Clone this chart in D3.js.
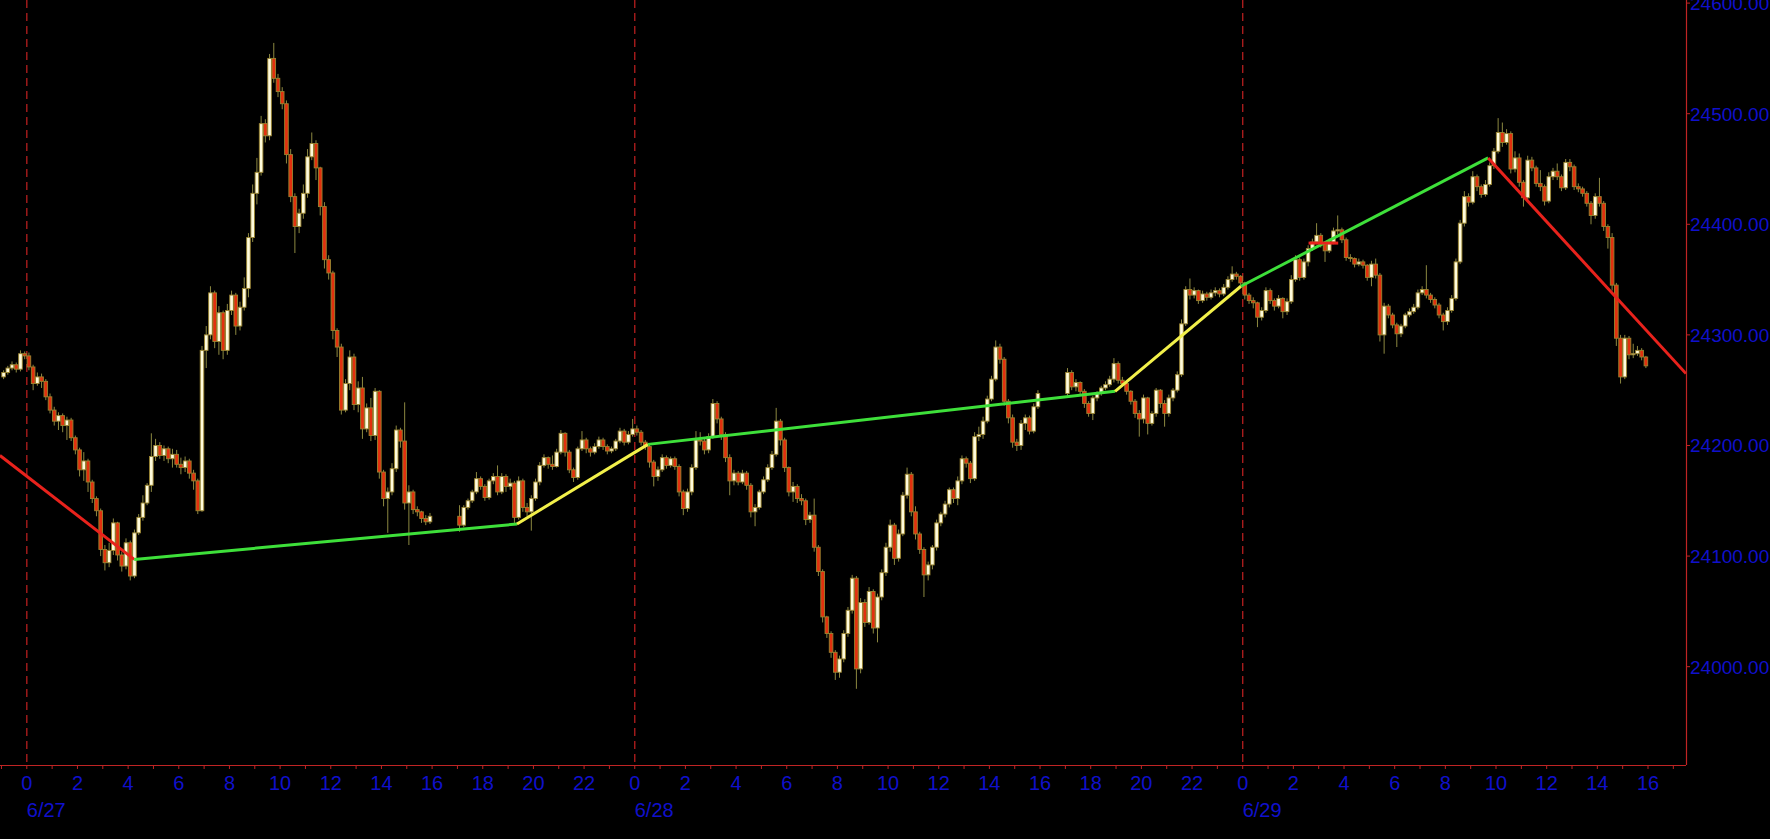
<!DOCTYPE html>
<html>
<head>
<meta charset="utf-8">
<script src="https://cdn.jsdelivr.net/npm/d3@7"></script>
<style>
  html, body { margin: 0; padding: 0; background: #000; overflow: hidden; }
  text { font-family: "Liberation Sans", Arial, sans-serif; }
</style>
</head>
<body>
<div id="chart"></div>
<script>
// 10-minute candles, time in hours counted from 6/27 00:00
var sessionStarts = [-1, 17, 41];
var firstOpen = 24262;

var closes1 = [
  24266, 24270, 24273, 24269, 24283, 24281,
  24271, 24256, 24262, 24258, 24244, 24232,
  24222, 24227, 24218, 24223, 24207, 24196,
  24178, 24186, 24167, 24152, 24141, 24106,
  24094, 24105, 24130, 24101, 24091, 24112,
  24082, 24121, 24135, 24148, 24164, 24190,
  24200, 24191, 24197, 24188, 24192, 24183,
  24180, 24186, 24175, 24168, 24141, 24286,
  24300, 24338, 24294, 24320, 24286, 24322,
  24336, 24308, 24325, 24342, 24388, 24428,
  24447, 24491, 24480, 24550, 24532, 24520,
  24509, 24463, 24425, 24398, 24410, 24428,
  24461, 24473, 24451, 24416, 24368, 24356,
  24304, 24289, 24232, 24256, 24280, 24237,
  24252, 24215, 24234, 24209, 24249, 24176,
  24152, 24158, 24179, 24214, 24204, 24148,
  24158, 24142, 24140, 24134, 24131, 24136
];
var highs1 = [
  24268, 24272, 24276, 24275, 24286, 24285,
  24284, 24273, 24266, 24265, 24260, 24247,
  24235, 24230, 24229, 24226, 24225, 24209,
  24198, 24194, 24188, 24169, 24154, 24143,
  24110, 24112, 24134, 24131, 24104, 24116,
  24114, 24124, 24138, 24155, 24166, 24211,
  24206, 24203, 24200, 24199, 24197, 24196,
  24189, 24190, 24188, 24178, 24170, 24290,
  24308, 24344, 24340, 24326, 24322, 24328,
  24340, 24338, 24330, 24352, 24392, 24436,
  24460, 24498, 24495, 24554, 24564, 24536,
  24524, 24512, 24468, 24428, 24414, 24436,
  24468, 24483, 24476, 24452, 24420, 24372,
  24358, 24306, 24292, 24260, 24286, 24283,
  24258, 24262, 24238, 24243, 24252, 24250,
  24178, 24162, 24184, 24218, 24216, 24239,
  24164, 24160, 24145, 24141, 24137, 24139
];
var lows1 = [
  24260, 24264, 24268, 24266, 24267, 24278,
  24268, 24250, 24254, 24252, 24241, 24229,
  24218, 24214, 24212, 24205, 24204, 24192,
  24172, 24168, 24158, 24148, 24136, 24100,
  24087, 24090, 24101, 24096, 24086, 24088,
  24078, 24080, 24119, 24132, 24146, 24158,
  24186, 24188, 24186, 24184, 24180, 24180,
  24174, 24176, 24170, 24160, 24138, 24140,
  24270, 24296, 24288, 24282, 24278, 24282,
  24318, 24300, 24304, 24322, 24334, 24384,
  24418, 24444, 24474, 24476, 24528, 24515,
  24504, 24455, 24420, 24374, 24392, 24405,
  24424, 24458, 24440, 24408, 24360, 24350,
  24296, 24280, 24228, 24230, 24250, 24232,
  24230, 24206, 24212, 24204, 24205, 24170,
  24145, 24121, 24155, 24176, 24198, 24142,
  24110, 24138, 24136, 24130, 24128, 24129
];

var closes2 = [
  24128, 24144, 24150, 24158, 24170, 24163,
  24153, 24168, 24172, 24158, 24172, 24163,
  24166, 24135, 24168, 24144, 24140, 24152,
  24167, 24182, 24189, 24183, 24181, 24194,
  24211, 24194, 24178, 24171, 24197, 24205,
  24197, 24194, 24199, 24205, 24199, 24195,
  24197, 24204, 24213, 24203, 24210, 24215,
  24212, 24203, 24199, 24185, 24172, 24178,
  24189, 24182, 24188, 24181, 24158, 24143,
  24158, 24180, 24205, 24204, 24196, 24208,
  24238, 24224, 24210, 24189, 24168, 24175,
  24167, 24175, 24164, 24140, 24144, 24158,
  24169, 24180, 24192, 24222, 24205, 24180,
  24158, 24163, 24152, 24150, 24133, 24137,
  24108, 24086, 24045, 24030, 24013, 23995,
  24007, 24030, 24051, 24080, 23998, 24058,
  24040, 24068, 24035, 24063, 24085, 24108,
  24128, 24098, 24120, 24155, 24174, 24140,
  24120, 24106, 24083, 24092, 24108, 24130,
  24138, 24147, 24160, 24152, 24168, 24188,
  24184, 24170, 24208, 24210, 24222, 24242,
  24260, 24289, 24278, 24240, 24225, 24203,
  24200, 24220, 24225, 24213, 24235, 24247
];
var highs2 = [
  24146, 24146, 24152, 24160, 24176, 24172,
  24165, 24170, 24175, 24182, 24175, 24174,
  24170, 24168, 24172, 24170, 24148, 24155,
  24170, 24185, 24192, 24190, 24191, 24197,
  24214, 24212, 24196, 24180, 24199, 24213,
  24207, 24199, 24202, 24208, 24207, 24201,
  24199, 24206, 24216, 24215, 24213, 24224,
  24218, 24214, 24205, 24201, 24187, 24181,
  24192, 24191, 24190, 24190, 24183, 24160,
  24161, 24183, 24213, 24212, 24206, 24211,
  24242, 24240, 24226, 24212, 24192, 24178,
  24177, 24178, 24177, 24166, 24147, 24160,
  24172, 24183, 24195, 24234, 24224, 24207,
  24181, 24167, 24165, 24156, 24152, 24140,
  24152, 24110, 24088, 24046, 24032, 24015,
  24010, 24033, 24054, 24083, 24082, 24062,
  24061, 24072, 24070, 24066, 24088, 24112,
  24133, 24130, 24124, 24158, 24180, 24176,
  24145, 24122, 24108, 24095, 24110, 24133,
  24140, 24150, 24162, 24162, 24172, 24191,
  24190, 24186, 24212, 24217, 24226, 24245,
  24263, 24295, 24292, 24280, 24242, 24228,
  24206, 24223, 24228, 24227, 24238, 24250
];
var lows2 = [
  24122, 24126, 24142, 24148, 24156, 24160,
  24150, 24151, 24165, 24155, 24156, 24158,
  24160, 24130, 24133, 24140, 24136, 24123,
  24150, 24164, 24180, 24179, 24178, 24180,
  24192, 24190, 24175, 24167, 24169, 24195,
  24193, 24190, 24192, 24197, 24196, 24192,
  24193, 24195, 24202, 24200, 24201, 24208,
  24209, 24200, 24196, 24180, 24163, 24168,
  24176, 24179, 24180, 24178, 24154, 24137,
  24140, 24155, 24178, 24200, 24192, 24193,
  24206, 24220, 24205, 24185, 24155, 24164,
  24164, 24165, 24160, 24135, 24127, 24142,
  24156, 24167, 24178, 24190, 24200, 24176,
  24154, 24149, 24148, 24146, 24128, 24130,
  24104, 24082, 24040, 24026, 24008, 23988,
  23990, 24004, 24027, 24048, 23980, 23994,
  24036, 24038, 24030, 24022, 24060, 24082,
  24104, 24092, 24095, 24118, 24152, 24136,
  24115, 24102, 24063, 24078, 24088, 24105,
  24127, 24135, 24144, 24148, 24146, 24165,
  24180, 24166, 24168, 24204, 24206, 24220,
  24240, 24258, 24274, 24236, 24220, 24198,
  24195, 24196, 24214, 24210, 24211, 24233
];

var closes3 = [
  24266, 24253, 24257, 24249, 24238, 24229,
  24243, 24247, 24252, 24255, 24260, 24274,
  24259, 24256, 24249, 24240, 24229, 24224,
  24243, 24220, 24229, 24250, 24238, 24229,
  24243, 24250, 24264, 24310, 24341, 24336,
  24340, 24331, 24337, 24334, 24338, 24340,
  24337, 24343, 24350, 24355, 24353, 24347,
  24336, 24331, 24329, 24316, 24322, 24340,
  24331, 24326, 24333, 24321, 24330, 24350,
  24368, 24352, 24366, 24378, 24384, 24390,
  24382, 24376, 24384, 24394, 24395, 24386,
  24370, 24369, 24364, 24366, 24363, 24352,
  24364, 24354, 24300, 24326, 24318, 24309,
  24301, 24308, 24318, 24321, 24325, 24338,
  24341, 24336, 24332, 24327, 24318, 24312,
  24322, 24333, 24366, 24401, 24425, 24420,
  24443, 24434, 24427, 24436, 24453, 24466,
  24483, 24474, 24482, 24450, 24460, 24438,
  24424, 24458, 24451, 24437, 24434, 24421,
  24443, 24448, 24443, 24433, 24456, 24452,
  24434, 24432, 24428, 24419, 24408, 24425,
  24419, 24398, 24388, 24345, 24297, 24262,
  24297, 24282, 24283, 24286, 24280, 24272
];
var highs3 = [
  24270, 24268, 24260, 24258, 24251, 24240,
  24245, 24249, 24254, 24258, 24263, 24279,
  24276, 24262, 24258, 24250, 24242, 24232,
  24246, 24244, 24231, 24252, 24251, 24241,
  24246, 24252, 24267, 24314, 24344, 24351,
  24343, 24341, 24340, 24339, 24341, 24343,
  24342, 24346, 24353, 24362, 24357, 24354,
  24348, 24338, 24334, 24330, 24325, 24343,
  24342, 24333, 24336, 24334, 24333, 24354,
  24372, 24370, 24369, 24381, 24387, 24401,
  24392, 24384, 24387, 24397, 24408, 24397,
  24388, 24373, 24370, 24369, 24368, 24364,
  24367, 24369, 24356, 24329, 24328, 24320,
  24311, 24310, 24320, 24324, 24328, 24341,
  24344, 24363, 24338, 24334, 24329, 24320,
  24325, 24336, 24369, 24404, 24430, 24428,
  24448, 24445, 24436, 24440, 24456, 24469,
  24496, 24492, 24486, 24484, 24466, 24464,
  24440, 24462, 24461, 24453, 24449, 24436,
  24447, 24451, 24455, 24445, 24459, 24459,
  24454, 24437, 24434, 24430, 24421, 24428,
  24442, 24421, 24400, 24392, 24347, 24300,
  24300, 24299, 24292, 24290, 24288, 24281
];
var lows3 = [
  24245, 24250, 24249, 24246, 24234, 24226,
  24223, 24240, 24245, 24250, 24253, 24257,
  24256, 24253, 24246, 24237, 24225, 24208,
  24220, 24210, 24218, 24226, 24234, 24217,
  24226, 24240, 24248, 24262, 24308, 24332,
  24333, 24328, 24329, 24331, 24332, 24335,
  24334, 24335, 24341, 24348, 24350, 24344,
  24332, 24328, 24324, 24307, 24313, 24320,
  24328, 24322, 24324, 24315, 24318, 24328,
  24348, 24349, 24350, 24362, 24376, 24382,
  24379, 24366, 24374, 24382, 24391, 24383,
  24367, 24366, 24361, 24362, 24360, 24349,
  24344, 24351, 24294, 24283, 24315, 24306,
  24289, 24298, 24306, 24316, 24319, 24323,
  24336, 24333, 24329, 24324, 24315, 24304,
  24309, 24320, 24331, 24364, 24398, 24416,
  24418, 24430, 24424, 24425, 24434, 24450,
  24464, 24470, 24472, 24446, 24447, 24434,
  24416, 24422, 24448, 24434, 24430, 24417,
  24419, 24440, 24440, 24430, 24431, 24448,
  24431, 24429, 24425, 24416, 24400, 24405,
  24416, 24394, 24378, 24340, 24290, 24256,
  24260, 24278, 24279, 24281, 24277, 24270
];

// trend lines: [time, price] pairs
var trendRed1 = [[-1.06, 24191], [4.24, 24097]];
var trendGreen1 = [[4.24, 24097], [19.35, 24129]];
var trendYellow1 = [[19.35, 24129], [24.52, 24201]];
var trendGreen2 = [[24.52, 24201], [42.96, 24249]];
var trendYellow2 = [[42.96, 24249], [47.93, 24344]];
var trendGreen3 = [[47.93, 24344], [57.69, 24460]];
var trendRed2 = [[57.69, 24460], [65.5, 24265]];
var levelRed = [[50.6, 24383], [51.77, 24383]];

var priceTicks = [24000, 24100, 24200, 24300, 24400, 24500, 24600];
var dayStarts = [0, 24, 48];
var dayLabels = ["6/27", "6/28", "6/29"];

// ---- layout
var svgWidth = 1770, svgHeight = 839;
var plotRight = 1686, plotBottom = 765;

var svg = d3.select("#chart").append("svg")
    .attr("width", svgWidth)
    .attr("height", svgHeight)
    .style("display", "block")
    .style("background", "#000");

var x = d3.scaleLinear().domain([-1.058, 65.5]).range([0, plotRight]);
var y = d3.scaleLinear().domain([23911.1, 24602.8]).range([plotBottom, 0]);

svg.append("clipPath").attr("id", "plotclip")
  .append("rect").attr("x", 0).attr("y", 0)
  .attr("width", plotRight).attr("height", plotBottom);

var plot = svg.append("g").attr("clip-path", "url(#plotclip)");

// day separators
plot.selectAll("line.day")
  .data(dayStarts)
  .enter().append("line")
  .attr("class", "day")
  .attr("x1", d => x(d)).attr("x2", d => x(d))
  .attr("y1", 0).attr("y2", plotBottom)
  .attr("stroke", "#a81c1c")
  .attr("stroke-width", 1.4)
  .attr("stroke-dasharray", "8,5");

// build the bars, each opens at the previous close
var bars = [];
var prev = firstOpen;
[[closes1, highs1, lows1], [closes2, highs2, lows2], [closes3, highs3, lows3]].forEach(function(s, k) {
  var c = s[0], h = s[1], l = s[2];
  for (var i = 0; i < c.length; i++) {
    var o = prev;
    bars.push({
      t: sessionStarts[k] + i / 6,
      o: o, c: c[i],
      h: Math.max(h[i], o, c[i]),
      l: Math.min(l[i], o, c[i])
    });
    prev = c[i];
  }
});

var half = 10 / 60 / 2;
var bodyW = 3.6;

var candles = plot.selectAll("g.candle")
  .data(bars)
  .enter().append("g")
  .attr("class", "candle");

candles.append("line")
  .attr("x1", d => x(d.t + half)).attr("x2", d => x(d.t + half))
  .attr("y1", d => y(d.h)).attr("y2", d => y(d.l))
  .attr("stroke", "#8c8840")
  .attr("stroke-width", 1);

candles.append("rect")
  .attr("x", d => x(d.t + half) - bodyW / 2)
  .attr("width", bodyW)
  .attr("y", d => y(Math.max(d.o, d.c)))
  .attr("height", d => Math.max(1, Math.abs(y(d.o) - y(d.c))))
  .attr("fill", d => d.c >= d.o ? "#fffbdc" : "#e2300e")
  .attr("stroke", "#9a8430")
  .attr("stroke-width", 0.9);

// trend lines
var line = d3.line().x(d => x(d[0])).y(d => y(d[1]));
[
  [trendRed1, "#e8221c"], [trendGreen1, "#3ee03a"], [trendYellow1, "#f2f04a"],
  [trendGreen2, "#3ee03a"], [trendYellow2, "#f2f04a"], [trendGreen3, "#3ee03a"],
  [trendRed2, "#e8221c"], [levelRed, "#e8221c"]
].forEach(function(p) {
  plot.append("path")
    .datum(p[0])
    .attr("d", line)
    .attr("fill", "none")
    .attr("stroke", p[1])
    .attr("stroke-width", 3);
});

// axes
var axisColor = "#c02424";
var labelColor = "#1010cc";

svg.append("line")
  .attr("x1", 0).attr("x2", plotRight)
  .attr("y1", plotBottom + 0.5).attr("y2", plotBottom + 0.5)
  .attr("stroke", axisColor).attr("stroke-width", 1.2);
svg.append("line")
  .attr("x1", plotRight + 0.5).attr("x2", plotRight + 0.5)
  .attr("y1", 0).attr("y2", plotBottom)
  .attr("stroke", axisColor).attr("stroke-width", 1.2);

var hourTicks = d3.range(-1, 66);
svg.selectAll("line.htick")
  .data(hourTicks)
  .enter().append("line")
  .attr("class", "htick")
  .attr("x1", d => x(d)).attr("x2", d => x(d))
  .attr("y1", plotBottom).attr("y2", plotBottom + 4)
  .attr("stroke", axisColor).attr("stroke-width", 1);

var hourLabels = d3.range(0, 65, 2);
svg.selectAll("text.hlabel")
  .data(hourLabels)
  .enter().append("text")
  .attr("class", "hlabel")
  .attr("x", d => x(d))
  .attr("y", 790)
  .attr("text-anchor", "middle")
  .attr("fill", labelColor)
  .style("font-size", "20px")
  .text(d => d % 24);

svg.selectAll("text.dlabel")
  .data(dayStarts)
  .enter().append("text")
  .attr("class", "dlabel")
  .attr("x", d => x(d))
  .attr("y", 817)
  .attr("fill", labelColor)
  .style("font-size", "20px")
  .text((d, i) => dayLabels[i]);

svg.selectAll("line.ptick")
  .data(priceTicks)
  .enter().append("line")
  .attr("class", "ptick")
  .attr("x1", plotRight).attr("x2", plotRight + 4)
  .attr("y1", d => y(d)).attr("y2", d => y(d))
  .attr("stroke", axisColor).attr("stroke-width", 1);

// 24600.00 sits on the top edge and is half cut, as in the source chart
svg.selectAll("text.plabel")
  .data(priceTicks)
  .enter().append("text")
  .attr("class", "plabel")
  .attr("x", plotRight + 4)
  .attr("y", d => y(d))
  .attr("dy", "0.36em")
  .attr("fill", labelColor)
  .style("font-size", "19px")
  .text(d => d3.format(".2f")(d));
</script>
</body>
</html>
